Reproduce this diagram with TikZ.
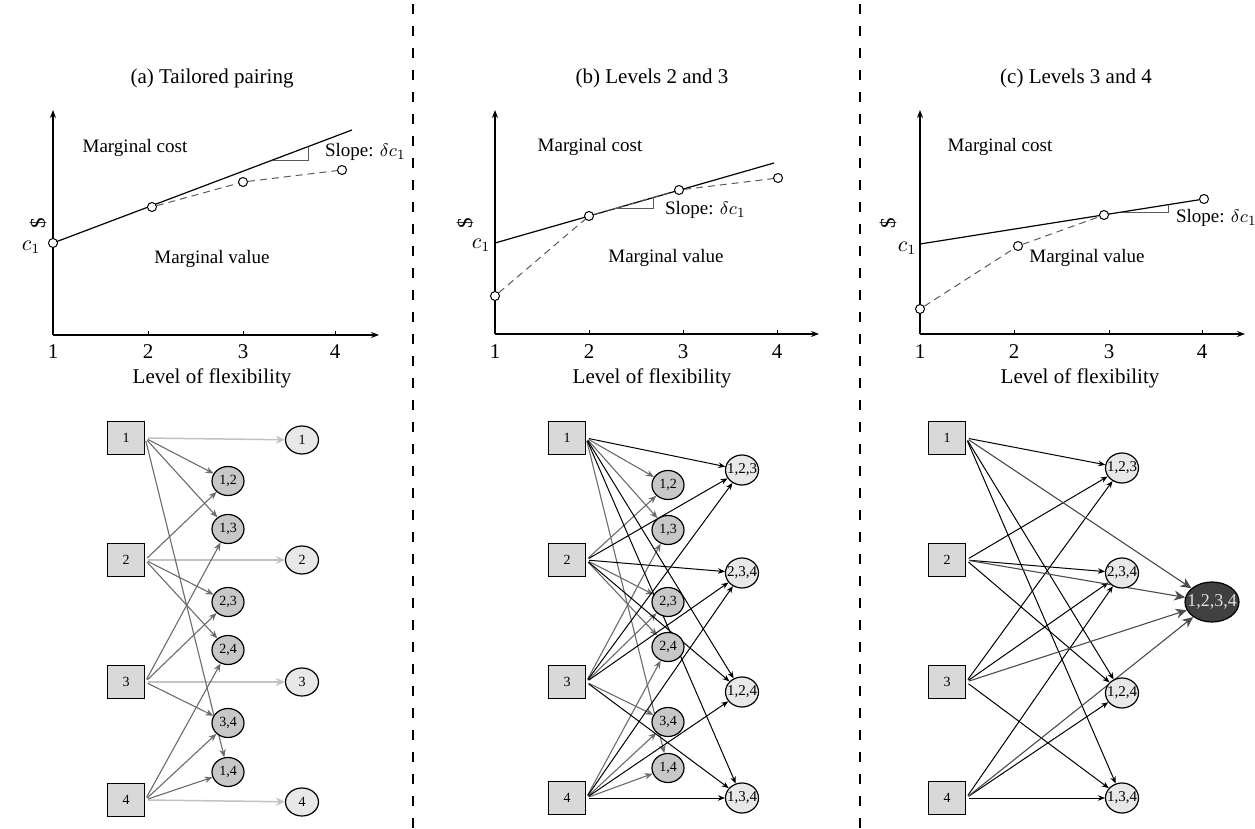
\documentclass[tikz,border=0pt]{standalone}
\usepackage{fontspec}
\setmainfont{Liberation Serif}
\usetikzlibrary{arrows.meta,shapes.geometric}
\pgfdeclarelayer{bg}
\pgfsetlayers{bg,main}
\definecolor{sqfill}{gray}{0.85}
\definecolor{midfill}{gray}{0.78}
\definecolor{litefill}{gray}{0.91}
\definecolor{darkfill}{gray}{0.25}
\definecolor{edgegray}{gray}{0.42}
\definecolor{edgelite}{gray}{0.76}
\definecolor{edgedark}{gray}{0.3}
\definecolor{trigray}{gray}{0.35}
\tikzset{
  sq/.style={draw, fill=sqfill, minimum width=18.5pt, minimum height=16.5pt, inner sep=0pt, line width=0.6pt, font=\fontsize{7}{8}\selectfont},
  midn/.style={ellipse, draw, fill=midfill, minimum width=16pt, minimum height=14.5pt, inner sep=0pt, line width=0.6pt, font=\fontsize{7}{8}\selectfont},
  single/.style={ellipse, draw, fill=litefill, minimum width=16.5pt, minimum height=14pt, inner sep=0pt, line width=0.6pt, font=\fontsize{7}{8}\selectfont},
  triple/.style={ellipse, draw, fill=litefill, minimum width=16.5pt, minimum height=15pt, inner sep=0pt, line width=0.6pt, font=\fontsize{7.5}{8}\selectfont},
  quad/.style={ellipse, draw, fill=darkfill, text=white!88!black, minimum width=27pt, minimum height=20pt, inner sep=0pt, line width=0.6pt, font=\fontsize{9}{10}\selectfont},
  gedge/.style={draw=edgegray, line width=0.55pt, -{Stealth[length=4pt,width=3.2pt]}, shorten <=1.5pt},
  ledge/.style={draw=edgelite, line width=0.75pt, -{Stealth[length=4.5pt,width=4pt]}, shorten <=1.5pt},
  bedge/.style={draw=black, line width=0.5pt, -{Stealth[length=3.5pt,width=2.8pt]}, shorten <=1.5pt},
  qedge/.style={draw=edgedark, line width=0.55pt, -{Stealth[length=5.5pt,width=5pt]}, shorten <=1.5pt},
  axis/.style={line width=0.6pt, -{Stealth[length=4pt,width=3pt]}},
  cost/.style={line width=0.6pt},
  val/.style={line width=0.5pt, draw=trigray, dash pattern=on 3.5pt off 2.5pt},
  pt/.style={circle, draw, fill=white, inner sep=0pt, minimum size=4.5pt, line width=0.5pt},
  tri/.style={line width=0.5pt, draw=trigray},
  lbl/.style={font=\fontsize{9.5}{11}\selectfont},
  ttl/.style={font=\fontsize{10.5}{12}\selectfont},
  sep/.style={line width=0.6pt, dash pattern=on 5pt off 6pt},
}
\begin{document}
\begin{tikzpicture}[x=0.5pt,y=-0.5pt]
\useasboundingbox (0,0) rectangle (1255,829);
% separators
\draw[sep] (413,4) -- (413,829);
\draw[sep] (860,4) -- (860,829);

% ================= Panel (a) chart =================
\node[ttl] (ta) at (212,78) {(a) Tailored pairing};
\coordinate (aO) at (53,335);
\coordinate (aY) at (53,110);
\coordinate (aX) at (379,335);
\draw[axis] (aO) -- (aY);
\draw[axis] (aO) -- (aX);
\foreach \x in {148,243,335} \draw[line width=0.5pt] (\x,335) -- (\x,331);
\node[ttl] (ax1) at (53,352) {1};
\node[ttl] (ax2) at (148,352) {2};
\node[ttl] (ax3) at (243,352) {3};
\node[ttl] (ax4) at (335,352) {4};
\node[ttl] (axl) at (212,378) {Level of flexibility};
\node[ttl, rotate=90] (ady) at (38,223) {\$};
\node[ttl] (ac1) at (31,247) {$c_1$};
\node[pt] (a1) at (53,243) {};
\node[pt] (a2) at (152,207) {};
\node[pt] (a3) at (243,182) {};
\node[pt] (a4) at (342,170) {};
\coordinate (aend) at (352,130);
\begin{pgfonlayer}{bg}
\draw[cost] (53,243) -- (aend);
\draw[val] (a2) -- (a3) -- (a4);
\end{pgfonlayer}
\draw[tri] (273,160.5) -- (308,160.5) -- (308,147);
\node[lbl, anchor=west] (asl) at (318,152) {Slope: $\delta c_1$};
\node[lbl] (amc) at (135,148) {Marginal cost};
\node[lbl] (amv) at (212,259) {Marginal value};

% ================= Panel (b) chart =================
\node[ttl] (tb) at (652,78) {(b) Levels 2 and 3};
\coordinate (bO) at (495,334);
\coordinate (bY) at (495,110);
\coordinate (bX) at (819,334);
\draw[axis] (bO) -- (bY);
\draw[axis] (bO) -- (bX);
\foreach \x in {589,683,777} \draw[line width=0.5pt] (\x,334) -- (\x,330);
\node[ttl] (bx1) at (495,352) {1};
\node[ttl] (bx2) at (589,352) {2};
\node[ttl] (bx3) at (683,352) {3};
\node[ttl] (bx4) at (777,352) {4};
\node[ttl] (bxl) at (652,378) {Level of flexibility};
\node[ttl, rotate=90] (bdy) at (465,223) {\$};
\node[ttl] (bc1) at (481,245) {$c_1$};
\coordinate (bc) at (495,243);
\node[pt] (b1) at (495,296) {};
\node[pt] (b2) at (589,216) {};
\node[pt] (b3) at (679,190) {};
\node[pt] (b4) at (778,178) {};
\coordinate (bend) at (774,163);
\begin{pgfonlayer}{bg}
\draw[cost] (bc) -- (bend);
\draw[val] (b1) -- (b2) -- (b3) -- (b4);
\end{pgfonlayer}
\draw[tri] (613,209) -- (653,209) -- (653,197.5);
\node[lbl, anchor=west] (bsl) at (658,210) {Slope: $\delta c_1$};
\node[lbl] (bmc) at (590,147) {Marginal cost};
\node[lbl] (bmv) at (666,258) {Marginal value};

% ================= Panel (c) chart =================
\node[ttl] (tc) at (1076,78) {(c) Levels 3 and 4};
\coordinate (cO) at (920,334);
\coordinate (cY) at (920,110);
\coordinate (cX) at (1245,334);
\draw[axis] (cO) -- (cY);
\draw[axis] (cO) -- (cX);
\foreach \x in {1014,1109,1202} \draw[line width=0.5pt] (\x,334) -- (\x,330);
\node[ttl] (cx1) at (920,352) {1};
\node[ttl] (cx2) at (1014,352) {2};
\node[ttl] (cx3) at (1109,352) {3};
\node[ttl] (cx4) at (1202,352) {4};
\node[ttl] (cxl) at (1080,378) {Level of flexibility};
\node[ttl, rotate=90] (cdy) at (888,223) {\$};
\node[ttl] (cc1) at (907,248) {$c_1$};
\coordinate (cc) at (920,244);
\node[pt] (c1) at (920,309) {};
\node[pt] (c2) at (1018,246) {};
\node[pt] (c3) at (1104,215) {};
\node[pt] (c4) at (1204,199) {};
\begin{pgfonlayer}{bg}
\draw[cost] (cc) -- (c4);
\draw[val] (c1) -- (c2) -- (c3);
\end{pgfonlayer}
\draw[tri] (1122,213) -- (1168,213) -- (1168,205.5);
\node[lbl, anchor=west] (csl) at (1169,218) {Slope: $\delta c_1$};
\node[lbl] (cmc) at (1000,147) {Marginal cost};
\node[lbl] (cmv) at (1087,258) {Marginal value};

% ================= Panel (a) graph =================
\node[sq] (as1) at (126,438) {1};
\node[sq] (as2) at (126,560) {2};
\node[sq] (as3) at (126,682) {3};
\node[sq] (as4) at (126,800) {4};
\node[midn] (am12) at (228,481) {\makebox[0pt]{1,2}};
\node[midn] (am13) at (228,529) {\makebox[0pt]{1,3}};
\node[midn] (am23) at (228,602) {\makebox[0pt]{2,3}};
\node[midn] (am24) at (228,650) {\makebox[0pt]{2,4}};
\node[midn] (am34) at (228,723) {\makebox[0pt]{3,4}};
\node[midn] (am14) at (228,772) {\makebox[0pt]{1,4}};
\node[single] (ar1) at (302,440) {1};
\node[single] (ar2) at (302,560) {2};
\node[single] (ar3) at (302,682) {3};
\node[single] (ar4) at (302,802) {4};
\begin{pgfonlayer}{bg}
\draw[ledge] (as1.east) -- (ar1);
\draw[ledge] (as2.east) -- (ar2);
\draw[ledge] (as3.east) -- (ar3);
\draw[ledge] (as4.east) -- (ar4);
\foreach \s/\m in {1/12,1/13,1/14,2/12,2/23,2/24,3/13,3/23,3/34,4/24,4/34,4/14}
  \draw[gedge] (as\s.east) -- (am\m);
\end{pgfonlayer}

% ================= Panel (b) graph =================
\node[sq] (bs1) at (567,438) {1};
\node[sq] (bs2) at (567,560) {2};
\node[sq] (bs3) at (567,682) {3};
\node[sq] (bs4) at (567,798) {4};
\node[midn] (bm12) at (668,485) {\makebox[0pt]{1,2}};
\node[midn] (bm13) at (668,530) {\makebox[0pt]{1,3}};
\node[midn] (bm23) at (668,602) {\makebox[0pt]{2,3}};
\node[midn] (bm24) at (668,647) {\makebox[0pt]{2,4}};
\node[midn] (bm34) at (668,722) {\makebox[0pt]{3,4}};
\node[midn] (bm14) at (668,768) {\makebox[0pt]{1,4}};
\node[triple] (bt123) at (742,470) {\makebox[0pt]{1,2,3}};
\node[triple] (bt234) at (742,573) {\makebox[0pt]{2,3,4}};
\node[triple] (bt124) at (742,692) {\makebox[0pt]{1,2,4}};
\node[triple] (bt134) at (742,798) {\makebox[0pt]{1,3,4}};
\begin{pgfonlayer}{bg}
\foreach \s/\m in {1/12,1/13,1/14,2/12,2/23,2/24,3/13,3/23,3/34,4/24,4/34,4/14}
  \draw[gedge] (bs\s.east) -- (bm\m);
\foreach \s/\t in {1/123,1/124,1/134,2/123,2/234,2/124,3/123,3/234,3/134,4/234,4/124,4/134}
  \draw[bedge] (bs\s.east) -- (bt\t);
\end{pgfonlayer}

% ================= Panel (c) graph =================
\node[sq] (cs1) at (947,438) {1};
\node[sq] (cs2) at (947,560) {2};
\node[sq] (cs3) at (947,682) {3};
\node[sq] (cs4) at (947,798) {4};
\node[triple] (ct123) at (1122,468) {\makebox[0pt]{1,2,3}};
\node[triple] (ct234) at (1122,573) {\makebox[0pt]{2,3,4}};
\node[triple] (ct124) at (1122,693) {\makebox[0pt]{1,2,4}};
\node[triple] (ct134) at (1122,798) {\makebox[0pt]{1,3,4}};
\node[quad] (cq) at (1212,602) {\makebox[0pt]{1,2,3,4}};
\begin{pgfonlayer}{bg}
\foreach \s/\t in {1/123,1/124,1/134,2/123,2/234,2/124,3/123,3/234,3/134,4/234,4/124,4/134}
  \draw[bedge] (cs\s.east) -- (ct\t);
\foreach \s in {1,2,3,4}
  \draw[qedge] (cs\s.east) -- (cq);
\end{pgfonlayer}
\end{tikzpicture}
\end{document}
